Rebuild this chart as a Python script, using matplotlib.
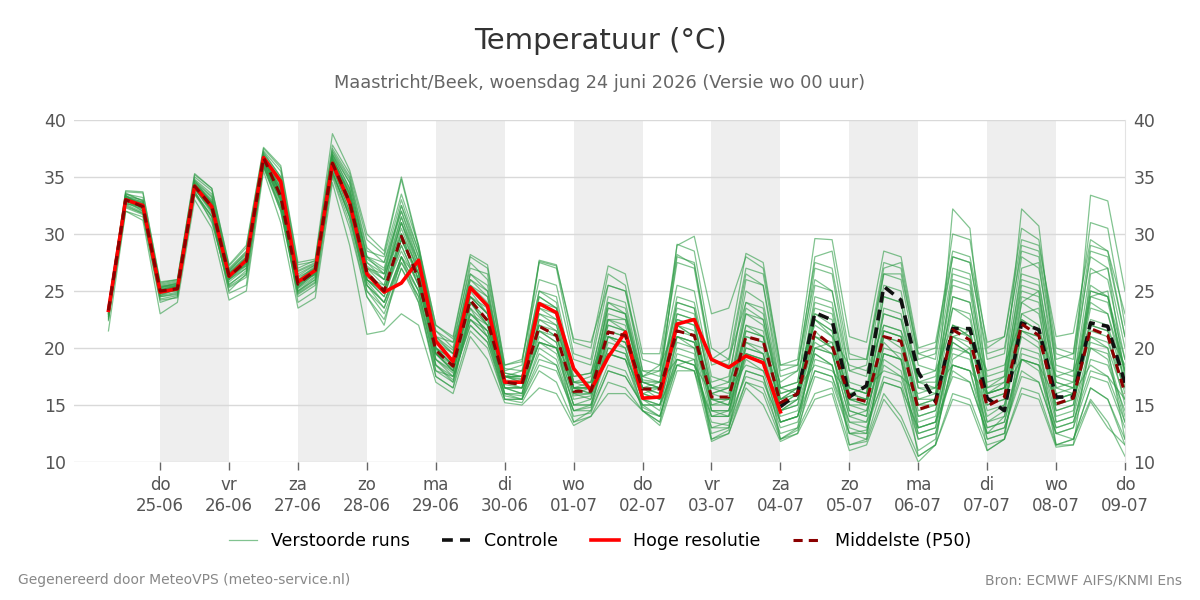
"""Pluim temperatuur Maastricht/Beek: ensemble runs + controle, hoge resolutie en P50."""
import numpy as np
import pandas as pd
import matplotlib
matplotlib.use("Agg")
import matplotlib.pyplot as plt
from matplotlib.lines import Line2D

# ---- data ----
tijden = pd.date_range("2026-06-24 06:00", "2026-07-09 00:00", freq="6h")  # 60 tijdstappen

middelste_p50 = [23.3, 33.0, 32.4, 25.0, 25.2, 34.2, 32.4, 26.3, 27.6, 36.7, 33.3, 25.6, 26.8, 36.2, 32.8,
                 26.6, 25.0, 29.8, 26.0, 19.8, 18.4, 24.2, 22.4, 17.0, 16.8, 21.9, 21.1, 16.2, 16.2, 21.4, 21.1,
                 16.4, 16.4, 21.5, 21.1, 15.7, 15.7, 21.0, 20.6, 15.2, 16.0, 21.4, 20.2, 15.7, 15.3, 21.0, 20.6,
                 14.6, 15.1, 21.6, 20.7, 14.9, 15.7, 22.1, 21.1, 15.1, 15.6, 21.7, 21.1, 16.0]

# hoge resolutie loopt t/m 04-07 00 uur (eerste 40 stappen)
hoge_resolutie = [23.3, 33.0, 32.5, 24.9, 25.2, 34.2, 32.4, 26.3, 27.7, 36.7, 34.6, 25.8, 26.8, 36.2, 32.7,
                  26.5, 24.9, 25.7, 27.7, 20.6, 18.8, 25.3, 23.7, 17.0, 17.0, 23.9, 23.1, 18.2, 16.3, 19.2, 21.4,
                  15.6, 15.7, 22.1, 22.5, 19.0, 18.3, 19.3, 18.7, 14.4]

# controle zichtbaar vanaf 04-07 00 uur (laatste 21 stappen)
controle = [14.85, 16.0, 23.1, 22.45, 15.7, 16.7, 25.4, 24.2, 17.9, 15.3, 21.7, 21.7, 15.6, 14.5,
            22.2, 21.6, 15.7, 15.7, 22.2, 21.9, 16.9]

verstoorde_runs = [
    [23.5, 33.5, 33.2, 25.5, 25.8, 34.8, 33.5, 26.8, 28.2, 37.2, 35.0, 26.5, 27.3, 37.0, 34.5,
     28.0, 27.0, 32.5, 28.5, 21.5, 20.0, 27.5, 26.0, 18.2, 18.0, 25.0, 24.5, 17.5, 17.8, 24.0, 23.5,
     17.2, 17.0, 24.5, 24.0, 17.0, 17.5, 25.0, 24.0, 16.5, 17.0, 25.5, 25.0, 18.0, 17.5, 26.5, 26.0,
     18.5, 18.0, 27.0, 26.5, 17.5, 18.0, 28.0, 27.0, 18.5, 18.0, 28.5, 28.0, 21.0],
    [22.5, 32.0, 31.5, 24.0, 24.5, 33.5, 31.5, 25.0, 26.5, 36.0, 32.0, 24.5, 25.5, 35.5, 31.5,
     25.0, 23.0, 27.0, 24.0, 18.0, 17.5, 22.0, 20.5, 16.0, 15.8, 19.5, 18.5, 14.5, 14.8, 18.5, 18.0,
     14.8, 14.0, 19.0, 18.5, 13.5, 13.2, 18.0, 17.5, 13.0, 13.5, 18.0, 17.5, 12.5, 12.8, 17.5, 17.0,
     12.0, 12.5, 18.0, 17.0, 12.5, 13.0, 17.5, 17.0, 12.5, 12.0, 16.5, 15.5, 12.0],
    [23.0, 33.2, 32.8, 25.2, 25.0, 34.0, 32.8, 26.5, 27.8, 36.5, 33.8, 25.8, 26.5, 36.8, 33.5,
     27.5, 26.0, 31.5, 27.0, 20.5, 19.0, 25.5, 23.5, 17.2, 17.0, 23.0, 22.5, 16.5, 16.0, 22.5, 22.0,
     16.0, 15.5, 22.5, 22.0, 15.0, 15.0, 22.0, 21.5, 14.5, 15.5, 23.0, 22.5, 16.0, 15.5, 23.5, 23.0,
     16.5, 16.0, 24.5, 24.0, 16.0, 17.0, 25.0, 24.5, 17.0, 16.5, 24.0, 23.0, 18.0],
    [23.8, 33.7, 33.6, 25.7, 26.0, 35.2, 34.0, 27.2, 28.8, 37.5, 35.8, 27.3, 27.6, 37.8, 35.3,
     29.5, 28.2, 34.8, 28.8, 22.0, 20.8, 28.0, 27.0, 18.5, 18.8, 27.5, 27.0, 19.5, 19.0, 26.5, 25.5,
     18.0, 17.5, 28.0, 27.5, 19.0, 18.5, 26.5, 25.5, 17.5, 18.0, 28.0, 28.5, 19.5, 19.0, 27.5, 27.0,
     19.0, 19.5, 30.0, 29.5, 20.0, 21.0, 30.5, 29.5, 20.0, 19.5, 31.0, 30.5, 22.0],
    [23.2, 32.8, 32.0, 24.8, 25.3, 34.5, 32.0, 26.0, 27.4, 36.8, 33.0, 25.3, 26.6, 36.0, 32.5,
     26.0, 24.5, 29.0, 25.5, 19.5, 18.2, 24.0, 22.0, 17.5, 17.2, 27.6, 27.2, 20.8, 20.5, 25.5, 25.0,
     19.0, 18.5, 29.0, 29.8, 23.0, 23.5, 28.0, 27.0, 18.5, 18.5, 26.0, 25.0, 17.0, 16.5, 24.5, 24.0,
     17.0, 17.5, 23.5, 22.5, 16.0, 16.5, 26.0, 25.5, 17.5, 17.0, 25.5, 24.5, 19.0],
    [22.8, 32.5, 31.8, 24.5, 24.8, 33.8, 31.0, 25.5, 26.8, 36.2, 32.5, 25.0, 26.2, 35.8, 32.0,
     25.5, 24.0, 28.0, 25.0, 18.5, 17.0, 23.0, 21.5, 16.5, 16.0, 20.5, 20.0, 15.0, 15.5, 20.0, 19.5,
     15.5, 14.5, 20.0, 19.5, 12.5, 13.0, 17.0, 16.0, 12.0, 12.8, 16.0, 16.5, 11.5, 11.8, 16.0, 14.0,
     10.5, 11.5, 16.0, 15.5, 11.5, 12.0, 16.5, 16.0, 11.5, 12.0, 15.5, 13.5, 10.5],
    [23.4, 33.0, 32.2, 24.6, 25.2, 34.0, 32.2, 26.1, 27.5, 36.6, 33.5, 25.4, 26.8, 36.4, 33.0,
     26.2, 25.5, 30.5, 26.5, 19.0, 17.8, 23.5, 22.0, 16.5, 16.5, 21.5, 20.5, 15.5, 15.8, 21.0, 20.5,
     16.0, 16.5, 21.0, 20.5, 14.5, 14.5, 20.0, 19.5, 14.5, 15.5, 20.5, 19.5, 14.0, 14.5, 20.0, 19.5,
     13.5, 14.0, 20.0, 19.5, 14.0, 15.0, 21.0, 20.0, 14.0, 14.5, 20.5, 20.0, 15.5],
    [23.6, 33.3, 33.0, 25.4, 25.6, 34.6, 33.2, 26.6, 28.0, 37.0, 34.8, 26.2, 27.0, 37.3, 34.8,
     28.5, 28.0, 33.5, 29.0, 21.0, 19.8, 26.5, 25.0, 17.8, 17.5, 24.5, 23.5, 17.0, 17.0, 23.5, 23.0,
     17.5, 17.0, 23.5, 23.0, 16.5, 16.0, 23.5, 22.5, 15.5, 16.5, 22.5, 21.5, 15.0, 15.0, 21.5, 21.0,
     15.0, 15.5, 22.0, 21.5, 15.5, 16.0, 23.0, 22.0, 15.5, 16.0, 22.5, 22.0, 17.0],
    [23.0, 32.6, 32.5, 25.0, 25.4, 34.3, 32.6, 26.4, 27.2, 36.4, 33.6, 25.9, 26.4, 35.9, 32.4,
     26.0, 24.8, 28.5, 25.5, 19.5, 18.0, 23.0, 21.5, 16.8, 16.5, 20.5, 20.0, 15.8, 16.0, 19.5, 19.0,
     15.0, 15.0, 19.0, 18.5, 14.0, 14.5, 19.0, 18.0, 13.5, 14.0, 19.5, 18.5, 13.5, 13.0, 18.5, 17.5,
     12.5, 13.0, 18.5, 18.0, 13.0, 13.5, 19.0, 18.5, 13.0, 13.5, 19.0, 18.5, 14.5],
    [23.3, 33.1, 32.7, 25.3, 25.5, 34.4, 32.9, 26.5, 27.9, 36.9, 34.2, 26.0, 27.2, 36.6, 33.8,
     27.0, 25.5, 31.0, 27.5, 20.0, 18.5, 25.0, 23.0, 17.5, 17.0, 23.5, 22.5, 17.0, 17.5, 24.5, 24.0,
     17.5, 18.0, 25.5, 25.0, 17.5, 17.0, 26.0, 25.5, 16.5, 17.0, 27.0, 26.5, 18.0, 18.5, 27.0, 27.5,
     19.5, 19.0, 28.0, 27.5, 19.0, 19.5, 29.0, 28.5, 19.5, 19.0, 28.0, 27.0, 20.0],
    [22.9, 32.9, 32.3, 24.7, 25.1, 33.9, 32.3, 26.0, 27.0, 36.3, 33.0, 25.5, 26.5, 36.0, 33.0,
     26.5, 25.2, 29.5, 26.0, 18.5, 17.2, 22.5, 21.5, 15.8, 15.5, 19.0, 18.5, 14.0, 14.3, 18.0, 17.5,
     15.0, 14.0, 18.5, 19.0, 12.0, 12.5, 17.0, 16.5, 12.5, 13.0, 17.5, 17.0, 12.5, 12.0, 17.0, 16.5,
     11.0, 12.0, 19.0, 20.0, 12.5, 14.0, 24.0, 25.0, 13.5, 14.0, 26.5, 27.0, 17.5],
    [23.1, 33.4, 32.1, 25.1, 25.5, 34.1, 32.5, 26.6, 27.7, 36.5, 34.0, 25.7, 26.9, 36.5, 33.5,
     27.0, 26.5, 30.0, 27.0, 21.0, 20.5, 24.5, 23.0, 17.5, 18.0, 22.0, 21.5, 17.5, 17.8, 21.5, 21.0,
     17.5, 18.5, 22.0, 21.0, 16.5, 17.0, 21.0, 20.5, 17.0, 18.0, 22.0, 21.0, 18.5, 18.0, 22.0, 21.5,
     17.5, 18.0, 22.0, 21.0, 18.0, 18.5, 22.5, 21.5, 17.5, 18.0, 22.0, 21.5, 18.5],
    [23.5, 33.6, 32.9, 25.6, 25.9, 35.0, 33.8, 27.0, 28.5, 37.3, 35.5, 27.0, 27.7, 37.5, 35.0,
     28.8, 27.5, 33.0, 28.5, 21.5, 20.5, 27.0, 26.5, 18.0, 18.5, 27.7, 27.3, 20.5, 20.0, 27.2, 26.5,
     19.5, 19.5, 28.2, 27.3, 19.0, 20.0, 28.3, 27.5, 18.5, 19.0, 29.6, 29.5, 21.0, 20.5, 28.5, 28.0,
     20.0, 20.5, 28.5, 28.0, 20.5, 21.0, 29.5, 29.0, 21.0, 21.3, 29.5, 28.5, 23.0],
    [22.6, 32.3, 31.7, 24.3, 24.6, 33.5, 31.2, 25.3, 26.2, 35.8, 32.0, 24.8, 25.8, 35.2, 31.0,
     24.5, 22.5, 27.0, 24.5, 17.5, 16.5, 21.5, 20.0, 15.5, 15.2, 18.0, 17.0, 13.5, 14.0, 17.0, 16.5,
     14.5, 13.5, 18.5, 18.0, 13.0, 13.5, 19.5, 19.0, 13.5, 14.0, 20.0, 20.5, 14.5, 14.0, 21.0, 20.5,
     14.0, 14.5, 20.5, 19.5, 13.5, 14.0, 19.0, 18.0, 13.0, 13.5, 18.0, 17.5, 13.5],
    [23.2, 33.0, 32.6, 25.0, 25.3, 34.2, 32.4, 26.3, 27.6, 36.7, 33.4, 25.6, 26.7, 36.3, 32.9,
     26.8, 25.0, 30.0, 26.0, 20.0, 18.5, 24.0, 22.5, 17.0, 17.0, 22.0, 21.0, 16.0, 16.5, 21.5, 21.0,
     16.5, 16.0, 21.5, 21.0, 15.5, 15.5, 21.0, 20.5, 15.0, 16.0, 21.5, 20.0, 15.5, 15.5, 21.0, 20.5,
     15.0, 15.0, 32.2, 30.5, 16.5, 17.5, 32.2, 30.7, 18.0, 17.5, 33.4, 32.9, 25.0],
    [23.7, 33.4, 32.4, 25.3, 25.7, 34.7, 32.7, 26.9, 28.4, 36.9, 34.3, 26.7, 27.4, 36.9, 34.0,
     27.8, 26.8, 32.0, 28.0, 20.8, 19.5, 26.0, 24.5, 17.8, 17.5, 24.5, 23.5, 17.0, 16.5, 22.5, 21.5,
     16.5, 15.5, 22.0, 21.0, 14.5, 14.0, 21.5, 21.0, 14.5, 15.0, 22.5, 21.0, 14.5, 14.0, 21.0, 20.0,
     13.0, 13.5, 20.5, 19.5, 12.0, 12.5, 19.0, 18.5, 11.5, 12.0, 16.5, 15.5, 11.5],
    [23.0, 32.7, 32.2, 24.9, 25.2, 34.0, 32.0, 26.2, 27.3, 36.2, 32.8, 25.2, 26.3, 35.5, 31.5,
     25.5, 23.5, 27.5, 25.0, 19.0, 18.0, 22.5, 21.0, 16.5, 16.5, 20.5, 20.0, 16.5, 16.5, 19.5, 19.0,
     16.5, 17.0, 19.0, 18.5, 16.0, 16.5, 18.5, 18.0, 15.5, 16.5, 18.5, 18.0, 16.0, 16.5, 18.0, 17.5,
     16.0, 16.5, 18.5, 18.0, 16.0, 16.5, 19.0, 18.5, 15.5, 16.0, 18.5, 17.5, 15.5],
    [23.4, 33.2, 32.6, 25.1, 25.4, 34.4, 32.6, 26.2, 27.8, 36.8, 33.9, 25.9, 27.0, 36.7, 33.3,
     27.2, 26.0, 31.0, 26.5, 19.8, 18.5, 25.5, 24.5, 17.5, 17.3, 23.0, 22.0, 16.5, 16.5, 22.5, 22.5,
     17.0, 16.5, 29.1, 28.5, 20.0, 19.0, 24.0, 23.0, 16.5, 16.0, 24.0, 23.5, 16.5, 16.0, 25.5, 25.0,
     17.0, 16.5, 26.5, 26.0, 16.5, 17.0, 27.0, 27.5, 17.0, 16.5, 25.0, 24.5, 18.0],
    [22.4, 33.0, 32.0, 24.2, 24.4, 34.0, 31.8, 24.8, 25.5, 36.0, 33.0, 24.0, 25.0, 35.0, 30.5,
     24.5, 22.0, 28.0, 24.0, 17.5, 16.5, 23.5, 21.0, 15.5, 15.5, 21.5, 20.5, 13.5, 14.5, 21.0, 20.0,
     14.5, 13.5, 21.0, 20.0, 12.0, 12.8, 20.5, 19.5, 12.0, 13.0, 21.0, 20.0, 11.5, 12.0, 20.5, 19.0,
     10.5, 11.5, 21.0, 20.0, 11.0, 12.0, 21.5, 20.5, 11.5, 11.5, 21.0, 20.0, 12.0],
    [23.3, 32.9, 32.5, 25.0, 25.3, 34.2, 32.3, 26.4, 27.5, 36.6, 33.1, 25.7, 26.6, 36.0, 33.0,
     26.0, 24.5, 29.5, 26.5, 19.5, 18.0, 24.5, 23.0, 16.5, 16.0, 22.5, 21.5, 16.0, 15.5, 21.0, 20.5,
     16.5, 16.5, 22.0, 21.5, 15.5, 15.0, 20.5, 20.0, 15.0, 15.5, 21.0, 20.0, 15.5, 15.0, 21.5, 21.0,
     14.5, 15.0, 22.0, 21.0, 15.0, 15.5, 22.5, 21.5, 15.0, 15.5, 22.0, 21.5, 16.0],
    [21.5, 32.0, 31.2, 23.0, 24.0, 33.0, 30.5, 24.2, 25.0, 35.5, 31.0, 23.5, 24.4, 34.5, 29.0,
     21.2, 21.5, 23.0, 22.0, 17.0, 16.0, 21.0, 19.0, 15.2, 15.0, 16.5, 16.0, 13.2, 14.0, 16.0, 16.0,
     14.5, 13.2, 18.0, 18.0, 11.8, 12.5, 16.5, 15.0, 11.8, 12.5, 15.5, 16.0, 11.0, 11.5, 15.5, 13.5,
     10.0, 11.5, 15.5, 15.0, 11.0, 12.0, 16.0, 15.5, 11.3, 11.5, 15.3, 13.0, 11.5],
    [23.6, 33.8, 33.7, 25.8, 26.0, 35.3, 34.0, 27.3, 29.0, 37.6, 36.0, 27.5, 27.8, 38.8, 35.6,
     30.0, 28.5, 35.0, 29.0, 22.0, 21.0, 28.2, 27.3, 18.5, 19.0, 26.0, 25.5, 19.0, 18.5, 25.5, 25.0,
     18.0, 18.0, 27.5, 27.0, 18.5, 19.0, 27.0, 26.5, 18.0, 18.5, 27.5, 27.0, 19.0, 19.0, 26.5, 26.5,
     19.5, 20.0, 28.0, 27.5, 19.5, 20.0, 28.5, 28.0, 19.0, 19.5, 29.0, 28.5, 21.0],
    [23.2, 33.1, 32.3, 24.9, 25.0, 34.1, 32.1, 25.8, 27.0, 36.4, 32.8, 25.0, 26.0, 35.8, 32.0,
     25.8, 24.0, 28.0, 26.0, 19.0, 17.5, 23.0, 22.0, 16.0, 16.0, 21.0, 20.0, 15.0, 15.0, 20.5, 20.0,
     15.5, 15.0, 20.5, 20.0, 14.0, 14.0, 19.5, 19.0, 14.0, 14.5, 20.0, 19.5, 14.0, 13.5, 19.5, 19.0,
     13.0, 13.5, 19.5, 19.0, 13.0, 13.5, 20.0, 19.5, 13.5, 14.0, 20.0, 19.5, 14.0],
    [23.4, 33.3, 32.8, 25.3, 25.6, 34.5, 33.0, 26.7, 28.0, 36.9, 34.5, 26.3, 27.3, 37.0, 34.0,
     28.0, 27.5, 32.0, 27.5, 20.5, 19.5, 26.5, 25.5, 17.5, 17.5, 24.0, 23.5, 16.5, 16.5, 23.0, 22.5,
     17.0, 17.0, 24.0, 23.5, 16.0, 16.5, 24.0, 23.5, 15.5, 16.0, 24.5, 24.0, 16.5, 16.0, 24.5, 24.0,
     16.5, 16.5, 25.5, 25.0, 16.0, 16.5, 25.5, 25.0, 16.5, 16.0, 25.0, 24.5, 17.5],
    [22.8, 32.6, 31.9, 24.6, 24.9, 33.6, 31.6, 25.6, 26.6, 35.9, 32.3, 24.9, 26.0, 35.3, 31.8,
     25.5, 24.0, 27.5, 24.5, 18.5, 17.5, 22.0, 20.5, 15.5, 15.5, 18.5, 18.0, 14.5, 14.5, 18.0, 17.5,
     15.0, 15.0, 18.5, 18.0, 14.0, 14.0, 17.5, 17.0, 13.5, 14.0, 18.0, 17.5, 13.5, 13.5, 17.0, 16.5,
     13.0, 13.5, 17.5, 17.0, 12.5, 13.0, 18.0, 17.0, 12.5, 13.0, 17.5, 17.0, 13.0],
    [23.3, 33.0, 32.5, 25.1, 25.4, 34.3, 32.5, 26.3, 27.7, 36.7, 33.5, 25.6, 26.8, 36.2, 33.0,
     26.5, 25.0, 30.0, 26.0, 20.0, 18.5, 24.0, 22.5, 17.0, 17.0, 22.0, 21.0, 16.0, 16.0, 22.0, 21.5,
     16.5, 16.0, 22.5, 22.0, 16.0, 15.5, 22.0, 21.0, 15.0, 16.0, 22.5, 21.5, 15.5, 15.0, 22.0, 21.5,
     15.0, 15.5, 23.5, 23.0, 15.5, 16.0, 24.0, 23.0, 15.5, 16.0, 23.5, 23.0, 17.0],
    [23.5, 33.5, 32.9, 25.4, 25.7, 34.7, 33.3, 26.8, 28.3, 37.1, 35.0, 26.8, 27.5, 37.2, 34.5,
     28.0, 26.5, 32.5, 28.0, 21.0, 19.5, 26.0, 25.0, 17.5, 17.5, 25.0, 24.0, 16.5, 16.0, 24.0, 23.0,
     16.0, 15.5, 23.0, 22.5, 14.5, 14.5, 20.0, 19.5, 13.5, 14.0, 19.5, 18.5, 13.0, 12.5, 19.0, 18.0,
     12.0, 12.5, 18.5, 18.0, 12.0, 12.5, 19.5, 19.0, 12.5, 13.0, 20.0, 19.0, 13.5],
    [23.1, 32.8, 32.4, 24.8, 25.1, 34.0, 32.0, 26.0, 27.2, 36.3, 33.2, 25.3, 26.5, 36.0, 32.7,
     26.0, 25.0, 29.0, 25.5, 19.5, 18.5, 24.5, 23.5, 16.5, 16.5, 22.5, 22.0, 16.5, 17.0, 22.0, 21.5,
     17.0, 16.5, 23.0, 22.5, 15.0, 15.5, 23.0, 22.0, 16.0, 16.5, 23.5, 23.0, 16.5, 16.0, 23.0, 22.5,
     17.0, 17.0, 26.0, 25.5, 17.0, 17.5, 26.5, 26.0, 16.5, 17.0, 27.0, 26.0, 19.0],
    [23.0, 32.9, 32.6, 25.0, 25.3, 34.3, 32.6, 26.4, 27.4, 36.5, 33.7, 25.8, 26.7, 36.5, 33.2,
     27.0, 26.0, 31.0, 27.0, 19.5, 18.0, 24.0, 22.0, 17.0, 16.5, 20.5, 19.5, 15.0, 15.0, 20.0, 19.5,
     15.5, 15.0, 21.0, 20.5, 15.5, 15.0, 19.5, 19.0, 14.5, 15.0, 20.0, 19.5, 15.0, 14.5, 19.5, 19.0,
     14.0, 14.5, 21.0, 20.5, 14.5, 15.0, 21.5, 21.0, 14.5, 15.0, 21.5, 21.0, 15.0],
    [23.6, 33.2, 32.7, 25.2, 25.5, 34.4, 32.8, 26.5, 27.9, 36.8, 34.0, 25.9, 27.1, 36.6, 33.6,
     27.5, 26.5, 31.5, 27.5, 20.0, 19.0, 25.5, 24.0, 17.5, 17.0, 23.5, 23.0, 17.0, 17.0, 23.5, 23.0,
     17.0, 16.5, 24.0, 23.5, 16.5, 16.5, 23.0, 22.5, 16.0, 16.5, 23.0, 22.0, 15.5, 15.5, 23.0, 22.5,
     15.5, 16.0, 24.5, 24.0, 16.0, 16.5, 24.5, 24.0, 16.0, 16.5, 24.5, 24.0, 18.0],
    [22.7, 32.4, 31.8, 24.5, 24.7, 33.7, 31.5, 25.4, 26.4, 36.0, 32.3, 24.7, 25.7, 35.4, 31.5,
     25.0, 23.5, 28.0, 25.0, 18.0, 17.0, 22.5, 21.0, 16.0, 15.5, 20.0, 19.0, 14.5, 15.0, 19.5, 19.0,
     14.5, 14.0, 19.5, 19.0, 13.0, 13.0, 18.0, 17.5, 12.0, 12.5, 19.0, 18.5, 12.5, 12.5, 19.5, 19.0,
     12.5, 13.0, 21.0, 21.5, 13.5, 14.5, 23.0, 23.5, 14.5, 15.0, 24.5, 25.0, 16.5],
    [23.4, 33.1, 32.5, 25.0, 25.4, 34.4, 32.7, 26.1, 27.6, 36.7, 33.6, 25.5, 26.9, 36.3, 32.8,
     26.0, 25.0, 29.5, 26.5, 20.0, 19.0, 24.5, 23.0, 17.5, 17.5, 21.5, 21.0, 16.5, 16.5, 21.0, 20.5,
     16.5, 16.5, 21.0, 20.5, 15.5, 15.5, 21.5, 21.0, 15.5, 16.0, 21.0, 20.5, 16.0, 15.5, 21.5, 21.0,
     15.5, 15.5, 21.5, 21.0, 15.0, 15.5, 21.5, 21.0, 15.0, 15.5, 21.0, 20.5, 16.5],
]

dag_ticks = pd.date_range("2026-06-25", "2026-07-09", freq="D")
dag_namen = ["do", "vr", "za", "zo", "ma", "di", "wo", "do", "vr", "za", "zo", "ma", "di", "wo", "do"]
dag_datums = ["25-06", "26-06", "27-06", "28-06", "29-06", "30-06", "01-07", "02-07",
              "03-07", "04-07", "05-07", "06-07", "07-07", "08-07", "09-07"]
grijze_dagen = pd.to_datetime(["2026-06-25", "2026-06-27", "2026-06-29", "2026-07-01",
                               "2026-07-03", "2026-07-05", "2026-07-07"])

# ---- stijl ----
GROEN = "#2e9c46"; TXT = "#555555"
plt.rcParams.update({"font.family": "DejaVu Sans"})
fig = plt.figure(figsize=(12, 6), dpi=100)
ax = fig.add_axes([74 / 1200, 1 - 462 / 600, (1125 - 74) / 1200, (462 - 120) / 600])

for d in grijze_dagen:
    ax.axvspan(d, d + pd.Timedelta(days=1), color="#eeeeee", lw=0, zorder=0)

for run in verstoorde_runs:
    ax.plot(tijden, run, color=GROEN, lw=0.9, alpha=0.6, zorder=2)
ax.plot(tijden[39:], controle, color="#111111", lw=2.6, ls=(0, (3, 2)), zorder=3)
ax.plot(tijden[:40], hoge_resolutie, color="#ff0000", lw=2.6, zorder=4)
ax.plot(tijden, middelste_p50, color="#8b0000", lw=2.2, ls=(0, (3, 2)), zorder=5)

ax.set_xlim(pd.Timestamp("2026-06-23 18:00"), pd.Timestamp("2026-07-09 00:00"))
ax.set_ylim(10, 40)
ax.set_yticks(range(10, 41, 5))
ax.yaxis.grid(True, color="#d9d9d9", lw=1, zorder=0.5)
ax.set_axisbelow(True)
ax.set_xticks(dag_ticks)
ax.set_xticklabels([f"{n}\n{d}" for n, d in zip(dag_namen, dag_datums)], linespacing=1.22)
ax.tick_params(axis="x", length=6, width=1, color="#666666", labelsize=12, labelcolor=TXT, pad=4)
ax.tick_params(axis="y", length=0, labelsize=12.5, labelcolor=TXT, pad=6, labelright=True)
for s in ["top", "left", "bottom"]:
    ax.spines[s].set_visible(False)
ax.spines["right"].set_color("#e3e3e3")

handles = [Line2D([], [], color=GROEN, lw=0.9, alpha=0.6),
           Line2D([], [], color="#111111", lw=2.6, ls=(0, (3, 2))),
           Line2D([], [], color="#ff0000", lw=2.6),
           Line2D([], [], color="#8b0000", lw=2.2, ls=(0, (3, 2)))]
fig.legend(handles, ["Verstoorde runs", "Controle", "Hoge resolutie", "Middelste (P50)"],
           loc="center", bbox_to_anchor=(0.5, 1 - 541 / 600), ncol=4, frameon=False,
           fontsize=12.5, handlelength=1.6, handletextpad=0.8, columnspacing=1.9)

fig.text(0.5, 1 - 41 / 600, "Temperatuur (°C)", ha="center", va="center", fontsize=21, color="#333333")
fig.text(0.5, 1 - 83 / 600, "Maastricht/Beek, woensdag 24 juni 2026 (Versie wo 00 uur)",
         ha="center", va="center", fontsize=12.75, color="#666666")
fig.text(18 / 1200, 1 - 580 / 600, "Gegenereerd door MeteoVPS (meteo-service.nl)",
         ha="left", va="center", fontsize=10, color="#888888")
fig.text(1182 / 1200, 1 - 580 / 600, "Bron: ECMWF AIFS/KNMI Ens",
         ha="right", va="center", fontsize=10, color="#888888")

fig.savefig("out.png", dpi=100, facecolor="white")
